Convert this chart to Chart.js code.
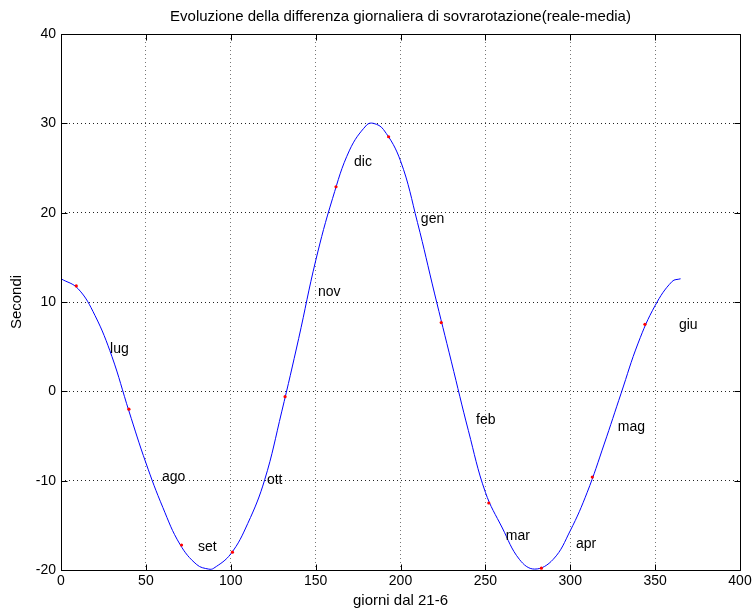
<!DOCTYPE html>
<html>
<head>
<meta charset="utf-8">
<title>Evoluzione della differenza giornaliera di sovrarotazione</title>
<script src="https://cdn.jsdelivr.net/npm/chart.js@4/dist/chart.umd.min.js"></script>
<style>
    html, body { margin: 0; padding: 0; background: #fff; }
    canvas { display: block; }
</style>
</head>
<body>
<canvas id="chart" width="755" height="616"></canvas>
<script>
// Daily difference curve (days since 21 June -> seconds)
const days = [0, 10, 20, 30, 40, 50, 60, 70, 80, 87, 90, 100, 110, 120, 130, 140, 150, 160, 170, 180,
    184, 190, 200, 210, 220, 230, 240, 250, 260, 270, 279, 290, 300, 310, 320, 330, 340, 350, 360, 365];
const seconds = [12.6, 11.5, 8.5, 3.9, -2.2, -8.0, -13.0, -17.1, -19.4, -19.9, -19.8, -18.2, -14.8, -9.9, -2.3, 5.9, 14.6, 21.6, 27.0, 29.8,
    30.0, 29.3, 25.8, 18.9, 11.0, 3.3, -4.4, -11.3, -15.3, -18.8, -19.9, -18.8, -15.6, -11.3, -5.9, -0.2, 5.4, 9.6, 12.3, 12.6];

// Red markers (first day of each month)
const markDays = [9, 40, 71, 101, 132, 162, 193, 224, 252, 283, 313, 344];
const markSeconds = [11.8, -2.0, -17.2, -18.0, -0.6, 22.9, 28.5, 7.7, -12.5, -19.8, -9.6, 7.5];

// Month names written on the plot
const monthNames = ['lug', 'ago', 'set', 'ott', 'nov', 'dic', 'gen', 'feb', 'mar', 'apr', 'mag', 'giu'];
const monthDays = [28.9, 59.5, 80.7, 121.3, 151.4, 172.6, 212.0, 244.5, 262.0, 303.4, 328.0, 364.0];
const monthSeconds = [4.7, -9.6, -17.4, -9.9, 11.1, 25.7, 19.3, -3.2, -16.2, -17.1, -4.0, 7.4];

const chartTitle = 'Evoluzione della differenza giornaliera di sovrarotazione(reale-media)';

const FONT = '"Liberation Sans", Arial, Helvetica, sans-serif';

// Box round the axes with inward ticks on all four sides
const framePlugin = {
    id: 'frame',
    afterDraw(chart) {
        const { ctx, chartArea: a, scales: { x, y } } = chart;
        const L = Math.round(a.left) + 0.5, R = Math.round(a.right) + 0.5;
        const T = Math.round(a.top) + 0.5, B = Math.round(a.bottom) + 0.5;
        const len = 6;
        ctx.save();
        ctx.strokeStyle = '#000';
        ctx.lineWidth = 1;
        ctx.beginPath();
        ctx.rect(L, T, R - L, B - T);
        x.ticks.forEach(t => {
            const px = Math.round(x.getPixelForValue(t.value)) + 0.5;
            ctx.moveTo(px, B); ctx.lineTo(px, B - len);
            ctx.moveTo(px, T); ctx.lineTo(px, T + len);
        });
        y.ticks.forEach(t => {
            const py = Math.round(y.getPixelForValue(t.value)) + 0.5;
            ctx.moveTo(L, py); ctx.lineTo(L + len, py);
            ctx.moveTo(R, py); ctx.lineTo(R - len, py);
        });
        ctx.stroke();

        // title centred over the plot box
        ctx.fillStyle = '#000';
        ctx.font = '15px ' + FONT;
        ctx.textAlign = 'center';
        ctx.textBaseline = 'middle';
        ctx.fillText(chartTitle, (a.left + a.right) / 2, 17);
        ctx.restore();
    }
};

// Month labels placed in data coordinates
const monthPlugin = {
    id: 'months',
    afterDatasetsDraw(chart) {
        const { ctx, scales: { x, y } } = chart;
        ctx.save();
        ctx.fillStyle = '#000';
        ctx.font = '14px ' + FONT;
        ctx.textAlign = 'left';
        ctx.textBaseline = 'middle';
        monthNames.forEach((name, i) => {
            ctx.fillText(name, x.getPixelForValue(monthDays[i]), y.getPixelForValue(monthSeconds[i]));
        });
        ctx.restore();
    }
};

new Chart(document.getElementById('chart'), {
    type: 'scatter',
    data: {
        datasets: [{
            data: markDays.map((d, i) => ({ x: d, y: markSeconds[i] })),
            pointRadius: 1.6,
            pointBackgroundColor: '#ff0000',
            pointBorderWidth: 0,
            showLine: false
        }, {
            data: days.map((d, i) => ({ x: d, y: seconds[i] })),
            showLine: true,
            borderColor: '#0000ff',
            borderWidth: 1,
            pointRadius: 0,
            tension: 0.4,
            fill: false
        }]
    },
    options: {
        responsive: false,
        animation: false,
        devicePixelRatio: 1,
        layout: { padding: { left: 0, right: 15, top: 34, bottom: 0 } },
        plugins: {
            legend: { display: false },
            tooltip: { enabled: false },
            title: { display: false }
        },
        scales: {
            x: {
                type: 'linear',
                min: 0,
                max: 400,
                ticks: { stepSize: 50, color: '#000', padding: 3, font: { family: FONT, size: 14 } },
                grid: { color: '#777', lineWidth: 1, drawTicks: false },
                border: { display: false, dash: [1, 3] },
                title: {
                    display: true,
                    text: 'giorni dal 21-6',
                    color: '#000',
                    font: { family: FONT, size: 15 },
                    padding: { top: 0, bottom: 6.5 }
                },
                afterFit(scale) { scale.height = 46; }
            },
            y: {
                min: -20,
                max: 40,
                ticks: { stepSize: 10, color: '#000', padding: 5, font: { family: FONT, size: 14 } },
                grid: { color: '#222', lineWidth: 1, drawTicks: false },
                border: { display: false, dash: [1, 3] },
                title: {
                    display: true,
                    text: 'Secondi',
                    color: '#000',
                    font: { family: FONT, size: 15 },
                    padding: { top: 8, bottom: 0 }
                },
                afterFit(scale) { scale.width = 61; }
            }
        }
    },
    plugins: [framePlugin, monthPlugin]
});
</script>
</body>
</html>
